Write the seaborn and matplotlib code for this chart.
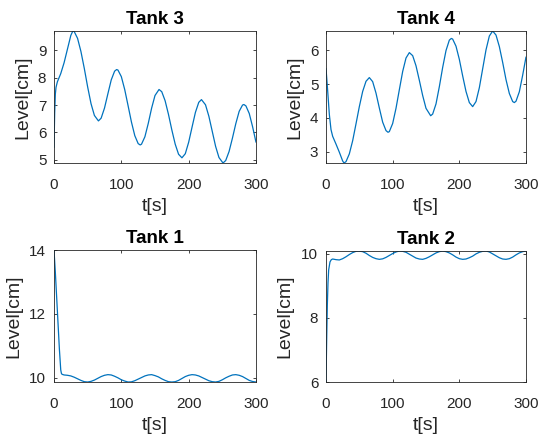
import matplotlib
matplotlib.use("Agg")
import matplotlib.pyplot as plt
import seaborn as sns

# ---- data ----
t3 = [0, 1, 2, 3, 5, 10, 15, 20, 25, 28, 30, 35, 40, 45, 50, 55, 60, 66, 70, 75,
      80, 85, 90, 93, 95, 100, 105, 110, 115, 120, 125, 128, 130, 135, 140, 145, 150,
      156, 160, 165, 170, 175, 180, 185, 190, 195, 200, 205, 210, 215, 219, 225, 230,
      235, 240, 245, 251, 255, 260, 265, 270, 275, 280, 282, 285, 290, 295, 300]
v3 = [5.45, 6.70, 7.40, 7.65, 7.85, 8.15, 8.55, 9.05, 9.55, 9.71, 9.69, 9.44, 8.96,
      8.34, 7.66, 7.05, 6.62, 6.42, 6.52, 6.89, 7.41, 7.92, 8.24, 8.30, 8.28, 8.04,
      7.57, 6.98, 6.38, 5.88, 5.59, 5.54, 5.57, 5.84, 6.33, 6.89, 7.35, 7.57, 7.49,
      7.16, 6.66, 6.09, 5.57, 5.20, 5.07, 5.22, 5.64, 6.19, 6.73, 7.10, 7.20, 7.01,
      6.59, 6.04, 5.49, 5.08, 4.88, 4.97, 5.30, 5.79, 6.32, 6.77, 7.00, 7.02, 6.97,
      6.69, 6.20, 5.64]

t4 = [0, 2.5, 5, 7.5, 10, 15, 20, 25, 27, 30, 35, 40, 45, 50, 55, 60, 65, 70, 75, 80,
      85, 90, 93, 95, 100, 105, 110, 115, 120, 125, 130, 135, 140, 145, 150, 157, 160,
      165, 170, 175, 180, 185, 188, 190, 195, 200, 205, 210, 215, 220, 225, 230, 235,
      240, 245, 250, 255, 260, 265, 270, 275, 280, 282.5, 285, 290, 295, 300]
v4 = [5.46, 4.80, 4.10, 3.65, 3.45, 3.22, 2.98, 2.72, 2.66, 2.70, 2.93, 3.32, 3.82,
      4.33, 4.78, 5.08, 5.19, 5.07, 4.73, 4.29, 3.87, 3.62, 3.57, 3.59, 3.83, 4.28,
      4.83, 5.37, 5.77, 5.93, 5.84, 5.54, 5.11, 4.66, 4.28, 4.06, 4.11, 4.41, 4.92,
      5.49, 5.99, 6.30, 6.35, 6.33, 6.12, 5.73, 5.24, 4.78, 4.45, 4.33, 4.48, 4.89,
      5.45, 6.01, 6.42, 6.57, 6.45, 6.11, 5.64, 5.13, 4.72, 4.48, 4.45, 4.49, 4.77,
      5.26, 5.80]

t1 = [0, 2, 4, 6, 8, 10, 11, 12, 15, 20, 25, 30, 35, 40, 45, 50, 55, 60, 65, 70, 75,
      80, 85, 90, 95, 100, 105, 110, 115, 120, 125, 130, 135, 140, 145, 150, 155, 160,
      165, 170, 175, 180, 185, 190, 195, 200, 205, 210, 215, 220, 225, 230, 235, 240,
      245, 250, 255, 260, 265, 270, 275, 280, 285, 290, 295, 300]
v1 = [14.0, 13.3, 12.5, 11.7, 10.9, 10.25, 10.14, 10.11, 10.09, 10.08, 10.06, 10.02,
      9.97, 9.92, 9.88, 9.87, 9.89, 9.93, 9.985, 10.04, 10.08, 10.10, 10.09, 10.05,
      10.00, 9.94, 9.90, 9.87, 9.875, 9.91, 9.96, 10.01, 10.06, 10.09, 10.10, 10.07,
      10.03, 9.97, 9.92, 9.88, 9.87, 9.88, 9.92, 9.98, 10.04, 10.08, 10.10, 10.09,
      10.06, 10.01, 9.96, 9.91, 9.88, 9.87, 9.89, 9.94, 10.00, 10.05, 10.09, 10.10,
      10.08, 10.04, 9.98, 9.92, 9.885, 9.87]

t2 = [0, 1, 2, 3, 4, 6, 8, 10, 15, 20, 25, 30, 35, 40, 45, 49, 55, 60, 65, 70, 75, 80,
      85, 90, 95, 100, 105, 110, 115, 120, 125, 130, 135, 140, 145, 150, 155, 160, 165,
      170, 175, 180, 185, 190, 195, 200, 205, 210, 215, 220, 225, 230, 235, 240, 245,
      250, 255, 260, 265, 270, 275, 280, 285, 290, 295, 300]
v2 = [6.0, 7.3, 8.4, 9.1, 9.5, 9.75, 9.82, 9.84, 9.82, 9.81, 9.85, 9.91, 9.98, 10.04,
      10.08, 10.09, 10.07, 10.02, 9.95, 9.89, 9.85, 9.83, 9.845, 9.89, 9.95, 10.01,
      10.06, 10.09, 10.08, 10.05, 9.99, 9.93, 9.87, 9.84, 9.83, 9.86, 9.91, 9.97,
      10.03, 10.07, 10.09, 10.07, 10.03, 9.97, 9.90, 9.85, 9.83, 9.84, 9.88, 9.93,
      10.00, 10.05, 10.08, 10.09, 10.06, 10.00, 9.94, 9.88, 9.84, 9.83, 9.85, 9.90,
      9.97, 10.03, 10.07, 10.09]

titles = ["Tank 3", "Tank 4", "Tank 1", "Tank 2"]
yticks = [[5, 6, 7, 8, 9], [3, 4, 5, 6], [10, 12, 14], [6, 8, 10]]
xticks = [0, 100, 200, 300]
xlabel = "t[s]"
ylabel = "Level[cm]"

# ---- figure ----
sns.set_theme(style="ticks")
plt.rcParams["font.family"] = ["Liberation Sans", "DejaVu Sans"]

fig = plt.figure(figsize=(5.41, 4.43), dpi=100)
W, H = 541, 443
# axes boxes in pixels: left, top, right, bottom
boxes = [(54, 31, 256, 163), (326, 31, 526, 163),
         (54, 250, 256, 382), (326, 251, 526, 382)]
ylab_x = [-0.153, -0.155, -0.20, -0.205]
series = [(t3, v3), (t4, v4), (t1, v1), (t2, v2)]
line_color = "#0072BD"
dark = "#262626"

for i, ((l, tp, r, b), (tt, vv)) in enumerate(zip(boxes, series)):
    ax = fig.add_axes([l / W, 1 - b / H, (r - l) / W, (b - tp) / H])
    sns.lineplot(x=tt, y=vv, ax=ax, color=line_color, linewidth=0.9)
    ax.set_xlim(0, 300)
    ax.set_ylim(min(vv), max(vv))
    ax.set_xticks(xticks)
    ax.set_yticks(yticks[i])
    ax.tick_params(direction="in", top=True, right=True, length=2.5, width=0.6,
                   color=dark, labelcolor=dark, labelsize=11)
    ax.tick_params(axis="x", pad=10.5)
    ax.tick_params(axis="y", pad=5.5)
    for s in ax.spines.values():
        s.set_linewidth(0.6)
        s.set_color(dark)
    ax.set_title(titles[i], fontsize=13.5, fontweight="bold", pad=5, color="black")
    ax.set_xlabel(xlabel, fontsize=14, color=dark)
    ax.set_ylabel(ylabel, fontsize=14, color=dark)
    ax.xaxis.set_label_coords(0.5, -0.33)
    ax.xaxis.label.set_va("center")
    ax.yaxis.set_label_coords(ylab_x[i], 0.5)
    ax.yaxis.label.set_va("center")

fig.savefig("out.png", dpi=100)
